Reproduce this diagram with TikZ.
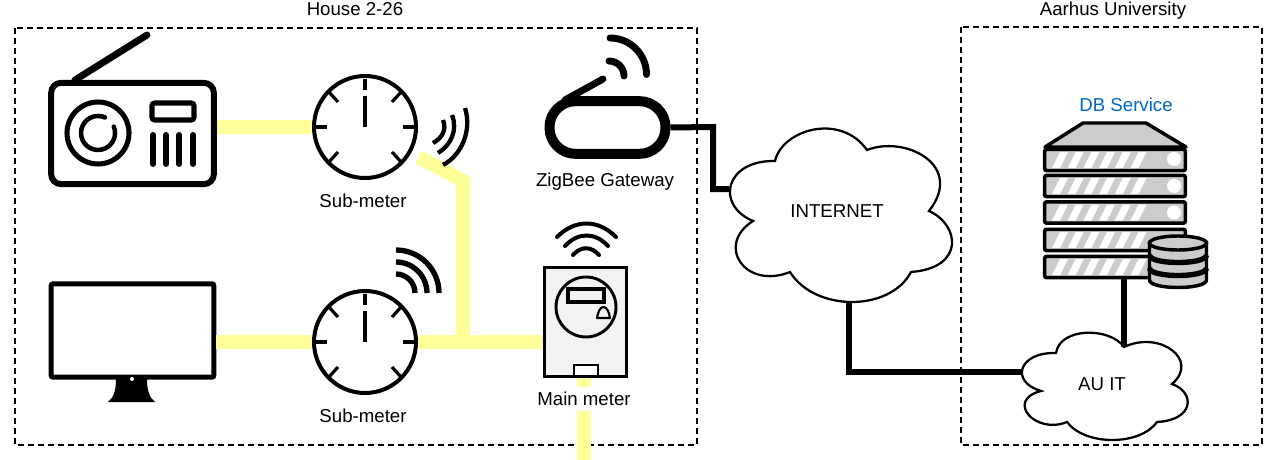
\documentclass[tikz,border=0pt]{standalone}
\usepackage{fontspec}
\setmainfont{Liberation Sans}
\usepackage{tikz}
\usetikzlibrary{positioning}
\definecolor{powercol}{HTML}{FFFF99}
\definecolor{rackcol}{HTML}{CCCCCC}
\definecolor{metercol}{HTML}{F2F2F2}
\definecolor{dbcol}{HTML}{0066CC}
\tikzset{
  lbl/.style={font=\fontsize{14}{16}\selectfont, inner sep=0pt},
  frame/.style={line width=1.5pt, dash pattern=on 4.5pt off 3pt},
  power/.style={line width=10.5pt, color=powercol},
  wire/.style={line width=4.5pt},
  dial/.style={draw, circle, line width=3pt, minimum size=76.5pt, inner sep=0pt},
  tick/.style={line width=2.4pt},
  wave/.style={line width=3.2pt},
  bold/.style={line width=5.2pt, line cap=round},
  rack/.style={draw, fill=rackcol, line width=2.7pt, rounded corners=1.5pt, minimum width=105.5pt, minimum height=16pt, inner sep=0pt},
  cloudline/.style={draw, fill=white, line width=1.7pt},
}

\begin{document}
\begin{tikzpicture}[x=0.75pt, y=-0.75pt]
         \useasboundingbox (0,0) rectangle (1275,460);
         \draw [frame] (15,28) rectangle (697,445);
         \draw [frame] (961,27) rectangle (1262,445);
         \node [lbl] (House) at (355,9) {House 2-26};
         \node [lbl] (Aarhus) at (1113,10.5) {Aarhus University};

         \node [draw, rounded corners=7.5pt, line width=4.5pt, minimum width=122pt, minimum height=76pt, inner sep=0pt] (Radio) at (132.5,133.5) {};
         \node [draw, rounded corners=1.5pt, line width=3.8pt, minimum width=122pt, minimum height=70pt, inner sep=0pt] (Screen) at (132.5,330.5) {};
         \node [dial] (SubA) at (365,127) {};
         \node [dial] (SubB) at (365,342) {};
         \node [draw, fill=metercol, line width=2.5pt, minimum width=61.5pt, minimum height=82pt, inner sep=0pt] (Main) at (585.5,322) {};
         \node [draw, line width=7.5pt, rounded corners=19.5pt, minimum width=87pt, minimum height=39.5pt, inner sep=0pt] (Gate) at (607.5,127.5) {};

         \coordinate (Bend) at (463,181);
         \coordinate (Tee) at (463,341);
         \coordinate (SubAOut) at (419,157);
         \coordinate (Feed) at (584,460);
         \draw [power] (Radio.east |- SubA.west) -- (SubA.west);
         \draw [power] (Screen.east |- SubB.west) -- (SubB.west);
         \draw [power] (SubAOut) -- (Bend) -- (Tee);
         \draw [power] (SubB.east) -- (SubB.east -| Main.west);
         \draw [power] (Main.south -| Feed) -- (Feed);

         % radio
         \draw [bold] (75,80) -- (147,35);
         \draw [line width=3.8pt] (98,133) circle [radius=31];
         \draw [line width=3.4pt, line cap=round] (113.8,126.6) arc [start angle=-22, end angle=294, radius=17];
         \draw [line width=3.8pt, rounded corners=2pt] (152,103) rectangle (194,120);
         \foreach \x in {153,166,179,193} {
           \draw [line width=4.5pt, line cap=round] (\x,135) -- (\x,164);
         }

         % screen stand
         \fill (116,379) -- (147,379) .. controls (147,392) and (150,398) .. (155,402) -- (108,402) .. controls (113,398) and (116,392) .. (116,379) -- cycle;
         \fill [white] (132,379) circle [radius=2];

         % sub-meter ticks
         \foreach \s in {SubA,SubB} {
           \draw [tick] ([shift={(0,-48)}]\s.center) -- ([shift={(0,-37)}]\s.center);
           \draw [tick] ([shift={(0,-31)}]\s.center) -- (\s.center);
           \draw [tick] ([shift={(-51,0)}]\s.center) -- ([shift={(-38,0)}]\s.center);
           \draw [tick] ([shift={(51,0)}]\s.center) -- ([shift={(38,0)}]\s.center);
           \draw [tick] ([shift={(-37,-36)}]\s.center) -- ([shift={(-27,-25)}]\s.center);
           \draw [tick] ([shift={(37,-36)}]\s.center) -- ([shift={(27,-25)}]\s.center);
           \draw [tick] ([shift={(-37,36)}]\s.center) -- ([shift={(-27,25)}]\s.center);
           \draw [tick] ([shift={(37,36)}]\s.center) -- ([shift={(27,25)}]\s.center);
         }

         % radio waves
         \draw [wave] (465,108) .. controls (472,130) and (462,155) .. (443,165);
         \draw [wave] (452,115) .. controls (458,130) and (451,145) .. (438,153);
         \draw [wave] (443,120) .. controls (447,130) and (442,138) .. (433,143);
         \foreach \r in {43,31,19} {
           \draw [line width=4pt] (396,293-\r) arc [start angle=-90, end angle=0, radius=\r];
         }
         \draw [line width=3pt, line cap=round] (557,237) .. controls (575,219) and (598,219) .. (616,237);
         \draw [line width=3pt, line cap=round] (565,246) .. controls (578,232) and (595,232) .. (608,246);
         \draw [line width=3pt, line cap=round] (573,255) .. controls (581,246) and (591,246) .. (599,255);

         % main meter
         \draw [fill=metercol, line width=2.2pt] (586,307) circle [radius=30];
         \draw [fill=metercol, line width=2.4pt] (568,289) rectangle (604,302);
         \draw [line width=1.6pt, line join=round] (597,318) .. controls (598,312) and (600,307) .. (603.5,307) .. controls (607,307) and (609,312) .. (610,318) -- cycle;
         \draw [fill=white, line width=2pt] (574,365) rectangle (598,376);

         % gateway
         \draw [bold] (565,100) -- (603,79);
         \draw [bold] (609,61) arc [start angle=-90, end angle=0, radius=15];
         \draw [bold] (610,38) arc [start angle=-90, end angle=0, radius=36.5];

         % clouds
         \path [cloudline] (775,161) .. controls (782,130) and (840,112) .. (867,150)
            .. controls (905,135) and (965,165) .. (929,211)
            .. controls (960,225) and (965,268) .. (911,272)
            .. controls (890,312) and (815,312) .. (790,272)
            .. controls (745,290) and (715,245) .. (753,221)
            .. controls (715,205) and (725,160) .. (775,161) -- cycle;
         \path [cloudline] (1056,353) .. controls (1060,327) and (1110,327) .. (1124,347)
            .. controls (1160,330) and (1200,360) .. (1172,384)
            .. controls (1195,392) and (1195,420) .. (1157,422)
            .. controls (1140,446) and (1085,446) .. (1067,422)
            .. controls (1035,435) and (1005,400) .. (1041,391)
            .. controls (1010,382) and (1018,352) .. (1056,353) -- cycle;
         \node [lbl] (Net) at (837,211) {INTERNET};
         \node [lbl] (AU) at (1102,384) {AU IT};

         \coordinate (NetW) at (729,189);
         \coordinate (NetS) at (849,302);
         \coordinate (AUW) at (1021,372);
         \coordinate (AUN) at (1124,347);
         \coordinate (DBS) at (1124,279);
         \draw [wire] (Gate.east) -- (713,127) -- (713,189) -- (NetW);
         \draw [wire] (NetS) -- (849,372) -- (AUW);
         \draw [wire] (DBS) -- (AUN);

         % server
         \draw [fill=rackcol, line width=2.6pt, line join=round] (1045,147) -- (1083,123) -- (1146,123) -- (1186,147) -- cycle;
         \foreach \y/\n in {160/1,186/2,212.5/3,240/4,267/5} {
           \node [rack] (Rack\n) at (1115,\y) {};
           \foreach \i in {0,...,5} {
             \fill [white] (1052+\i*15.7,\y+8) -- (1060+\i*15.7,\y+8) -- (1068+\i*15.7,\y-8) -- (1060+\i*15.7,\y-8) -- cycle;
           }
         }
         \foreach \y in {159,186,212.5} {
           \fill [white] (1174,\y) circle [radius=7];
         }
         \node [lbl, text=dbcol] (DB) at (1126,105) {DB Service};

         % database
         \draw [fill=rackcol, line width=2.6pt] (1149.5,243) -- (1149.5,280) .. controls (1149.5,290) and (1206.5,290) .. (1206.5,280) -- (1206.5,243) -- cycle;
         \draw [fill=rackcol, line width=2.6pt] (1178,243) ellipse [x radius=28.5, y radius=7];
         \draw [line width=4pt] (1149.5,255) .. controls (1149.5,265) and (1206.5,265) .. (1206.5,255);
         \draw [line width=4pt] (1149.5,268) .. controls (1149.5,278) and (1206.5,278) .. (1206.5,268);

         \node [lbl] (LabelA) at (363,201) {Sub-meter};
         \node [lbl] (LabelB) at (363,416) {Sub-meter};
         \node [lbl] (LabelG) at (605,182) {ZigBee Gateway};
         \node [lbl, fill=white, inner ysep=4pt, inner xsep=2pt] (LabelM) at (584,399) {Main meter};
 \end{tikzpicture}
\end{document}
